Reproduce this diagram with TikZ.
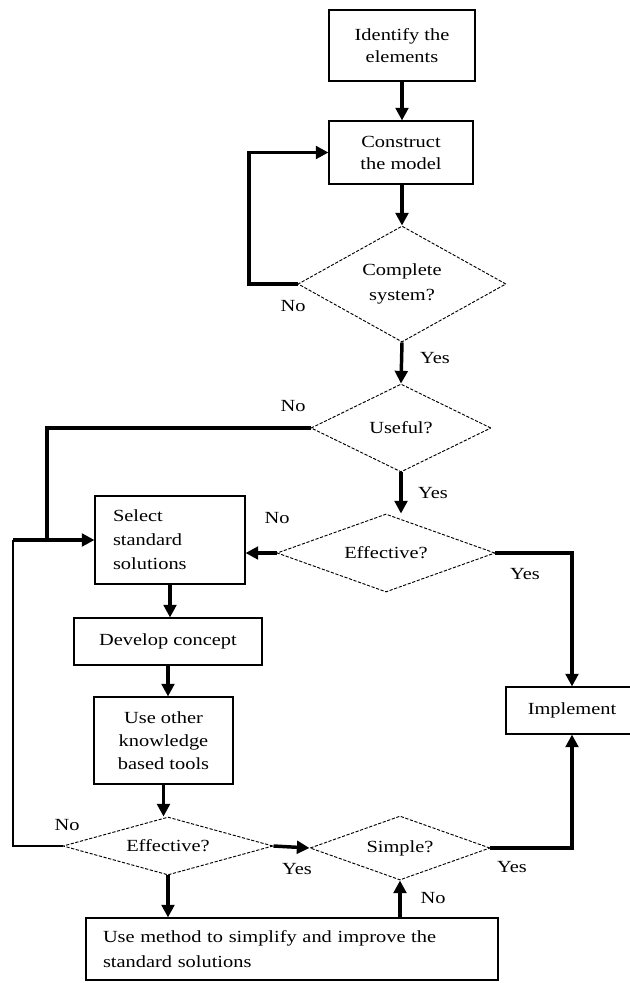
\documentclass[tikz,border=0pt]{standalone}
\usepackage{fontspec}
\setmainfont[FakeStretch=1.2]{Liberation Serif}
\usetikzlibrary{shapes.geometric,arrows.meta,calc}
\newdimen\px \px=0.75pt
\begin{document}
\begin{tikzpicture}[x=0.75pt,y=-0.75pt,
  txt/.style={font=\fontsize{12.75pt}{17.25pt}\selectfont},
  box/.style={txt,draw,line width=0.8pt,inner sep=0pt,align=center},
  dia/.style={txt,draw,shape=diamond,dash pattern=on 2.4pt off 1.2pt,line width=0.7pt,inner sep=0pt,align=center},
  arr/.style={line width=2.6pt,-{Triangle[length=9.5pt,width=9.5pt]}},
  thk/.style={line width=2.6pt},
  thn/.style={line width=2.2pt},
  lbl/.style={txt,inner sep=0pt}]
\useasboundingbox (0,0) rectangle (630,983);
% boxes
\node[box,minimum width=146\px,minimum height=71\px,font=\fontsize{12.75pt}{16pt}\selectfont] (ident) at (402,45.5) {Identify the\\elements};
\node[box,minimum width=144\px,minimum height=63\px,font=\fontsize{12.75pt}{16.5pt}\selectfont] (construct) at (401,152.5) {Construct\\the model};
\node[dia,shape aspect=1.79,minimum width=208\px,minimum height=116\px,font=\fontsize{12.75pt}{18.75pt}\selectfont] (complete) at (402,284) {Complete\\system?};
\node[dia,shape aspect=2.05,minimum width=180\px,minimum height=88\px] (useful) at (401,428) {Useful?};
\node[dia,shape aspect=2.8,minimum width=218\px,minimum height=78\px] (eff1) at (386,553) {Effective?};
\node[box,minimum width=150\px,minimum height=88\px,text width=114\px,align=left,font=\fontsize{12.75pt}{18pt}\selectfont] (select) at (170,540) {Select\\standard\\solutions};
\node[box,minimum width=188\px,minimum height=47\px] (develop) at (168,641.5) {Develop concept};
\node[box,minimum width=139\px,minimum height=87\px] (useother) at (163.5,740.5) {Use other\\knowledge\\based tools};
\node[dia,shape aspect=3.6,minimum width=210\px,minimum height=58\px] (eff2) at (168,846) {Effective?};
\node[dia,shape aspect=2.8,minimum width=180\px,minimum height=64\px] (simple) at (400,848) {Simple?};
\node[box,minimum width=412\px,minimum height=62\px,text width=378\px,align=left,font=\fontsize{12.75pt}{18.75pt}\selectfont] (bottom) at (292,949) {Use method to simplify and improve the\\standard solutions};
\node[box,minimum width=132\px,minimum height=47\px] (implement) at (572,710.5) {Implement};
% coordinates
\coordinate (loopc) at (249,284);
\coordinate (uj) at (47,540);
\coordinate (lc) at (13,846);
\coordinate (lt) at (13,540);
% connectors
\draw[arr] (ident.south) -- (ident.south |- construct.north);
\draw[arr] (construct.south) -- (construct.south -| complete.north) -- (complete.north);
\draw[arr] (complete.west) -- (loopc) |- (construct.west);
\draw[arr] (complete.south) -- (useful.north);
\draw[thk] (useful.west) -| (uj);
\draw[arr] (useful.south) -- (useful.south |- eff1.north);
\draw[arr] (eff1.west) -- (eff1.west -| select.east);
\draw[arr] (eff1.east) -| (implement.north);
\draw[arr] (select.south) -- (select.south |- develop.north);
\draw[arr] (develop.south) -- (develop.south |- useother.north);
\draw[arr] (useother.south) -- (useother.south |- eff2.north);
\draw[thn] (eff2.west) -- (lc) -- (lt);
\draw[arr] (lt) -- (lt -| select.west);
\draw[arr] (eff2.east) -- (simple.west);
\draw[arr] (eff2.south) -- (eff2.south |- bottom.north);
\draw[arr] (simple.south |- bottom.north) -- (simple.south);
\draw[arr] (simple.east) -| (implement.south);
% labels
\node[lbl] (n1) at (293,306) {No};
\node[lbl] (y1) at (435,358) {Yes};
\node[lbl] (n2) at (293,406) {No};
\node[lbl] (y2) at (433,493) {Yes};
\node[lbl] (n3) at (277,518) {No};
\node[lbl] (y3) at (525,574) {Yes};
\node[lbl] (n4) at (67,825) {No};
\node[lbl] (y4) at (297,869) {Yes};
\node[lbl] (y5) at (512,867) {Yes};
\node[lbl] (n5) at (433,898) {No};
\end{tikzpicture}
\end{document}
